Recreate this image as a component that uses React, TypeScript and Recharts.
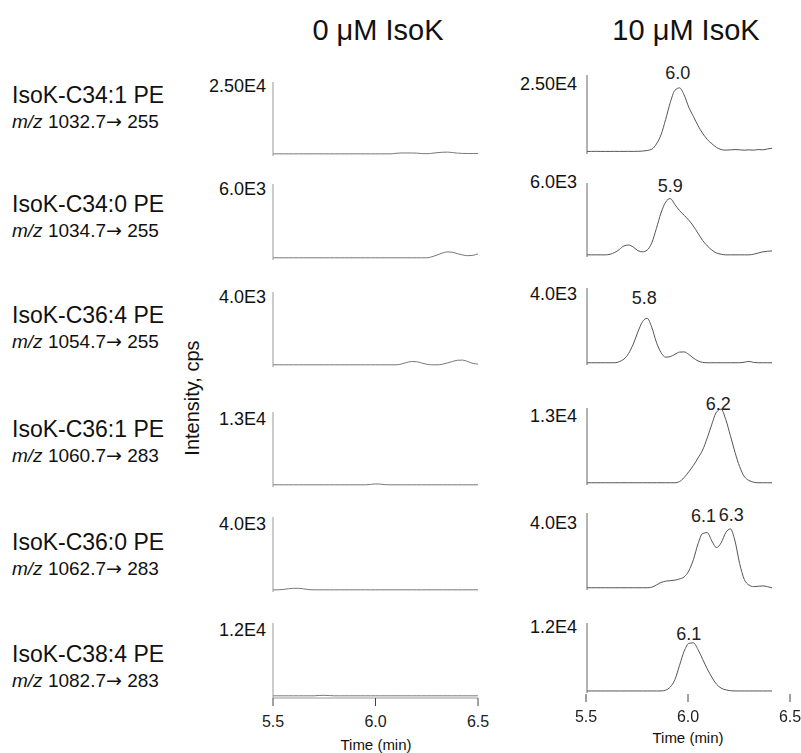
import React from 'react';
import { LineChart, Line, XAxis, YAxis, ReferenceDot } from 'recharts';

// retention time grid (min)
const TIME = [
  5.5, 5.525, 5.55, 5.575, 5.6, 5.625, 5.65, 5.675, 5.7, 5.725, 5.75, 5.775, 5.8, 5.825,
  5.85, 5.875, 5.9, 5.925, 5.95, 5.975, 6.0, 6.025, 6.05, 6.075, 6.1, 6.125, 6.15, 6.175,
  6.2, 6.225, 6.25, 6.275, 6.3, 6.325, 6.35, 6.375, 6.4, 6.425, 6.45, 6.475, 6.5,
];

const ANALYTES = ['IsoK-C34:1 PE', 'IsoK-C34:0 PE', 'IsoK-C36:4 PE', 'IsoK-C36:1 PE', 'IsoK-C36:0 PE', 'IsoK-C38:4 PE'];
const PRECURSORS = ['1032.7', '1034.7', '1054.7', '1060.7', '1062.7', '1082.7'];
const PRODUCTS = ['255', '255', '255', '283', '283', '283'];
const CONDITIONS = ['0 μM IsoK', '10 μM IsoK'];
const SCALE_MAX = [25000, 6000, 4000, 13000, 4000, 12000];
const SCALE_LABELS = ['2.50E4', '6.0E3', '4.0E3', '1.3E4', '4.0E3', '1.2E4'];
const X_TICKS = [5.5, 6.0, 6.5];

// 0 uM IsoK traces (cps)
const CTRL_1 = [0,0,0,0,0,0,0,0,0,0,0,0,0,0,0,0,0,0,0,0,0,0,0,0,200,300,300,300,250,100,50,200,400,550,600,450,250,150,100,100,100];
const CTRL_2 = [0,0,0,0,0,0,0,0,0,0,0,0,0,0,0,0,0,0,0,0,0,0,0,0,0,0,0,0,0,0,0,80,220,380,480,450,330,230,170,200,320];
const CTRL_3 = [0,0,0,0,0,0,0,0,0,0,0,0,0,0,0,0,0,0,0,0,0,0,0,0,0,40,120,180,170,100,30,0,0,30,100,180,250,260,180,80,40];
const CTRL_4 = [0,0,0,0,0,0,0,0,0,0,0,0,0,0,0,0,0,0,0,60,170,120,20,0,0,0,0,0,0,0,0,0,0,0,0,0,0,0,0,0,0];
const CTRL_5 = [0,0,20,60,80,80,50,10,0,0,0,0,0,0,0,0,0,0,0,0,0,0,0,0,0,0,0,0,0,0,0,0,0,0,0,0,0,0,0,0,0];
const CTRL_6 = [0,0,0,0,0,0,0,0,0,60,80,40,0,0,0,0,0,0,0,0,0,0,0,0,0,0,0,0,0,0,0,0,0,0,0,0,0,0,0,0,0];

// 10 uM IsoK traces (cps)
const ISOK_1 = [100,100,120,100,90,100,110,100,100,120,100,130,200,400,800,2500,5500,10500,16000,20000,20800,18500,14500,11500,8500,6000,4000,2600,1400,700,500,600,700,600,500,600,500,700,600,900,1100];
const ISOK_2 = [0,0,0,0,0,50,200,450,750,820,650,350,250,400,1000,2200,3500,4400,4700,4200,3700,3300,2900,2400,1800,1200,750,400,150,50,0,0,0,0,0,0,50,150,250,300,330];
const ISOK_3 = [0,0,0,0,0,0,0,60,200,500,1000,1650,2200,2380,1900,1100,550,300,330,450,570,580,450,250,100,20,0,0,0,0,0,0,0,0,30,70,20,0,0,0,0];
const ISOK_4 = [0,0,0,0,0,0,0,0,0,0,0,0,0,0,0,0,0,0,0,0,200,900,1900,3000,4300,5700,7800,10200,12300,12800,11000,8200,5300,2800,1100,400,100,0,0,0,0];
const ISOK_5 = [0,0,0,0,0,0,0,0,0,0,0,0,0,0,30,150,280,350,380,410,470,580,900,1500,2350,2900,2950,2500,2150,2400,2950,3150,2500,1300,450,150,60,80,100,60,0];
const ISOK_6 = [0,0,0,0,0,0,0,0,0,0,0,0,0,0,0,0,0,150,700,2000,4500,7000,8400,8500,7300,5600,3900,2400,1200,500,200,50,0,0,0,0,0,0,0,0,0];

// apex retention times and their labels
const PEAK_TIMES = [[5.99], [5.95], [5.81], [6.21], [6.13, 6.28], [6.05]];
const PEAK_LABELS = [['6.0'], ['5.9'], ['5.8'], ['6.2'], ['6.1', '6.3'], ['6.1']];

const CTRL = [CTRL_1, CTRL_2, CTRL_3, CTRL_4, CTRL_5, CTRL_6];
const ISOK = [ISOK_1, ISOK_2, ISOK_3, ISOK_4, ISOK_5, ISOK_6];

// layout (px)
const FONT = '"Liberation Sans", Arial, Helvetica, sans-serif';
const LEFT_X = [273, 478];
const RIGHT_X = [587, 772];
const LEFT_ROWS = [[82, 156], [184, 260], [292, 367], [412, 487], [517, 592], [623, 698]];
const RIGHT_ROWS = [[75, 154], [183, 257], [288, 365], [408, 485], [513, 590], [623, 693]];
const LEFT_LABEL_Y = [86, 189, 297, 419, 524, 630];
const RIGHT_LABEL_Y = [84, 182, 294, 416, 523, 627];
const NAME_Y = [95, 204, 315, 429, 542, 654];
const PEAK_OFFSETS = [[9], [7], [14], [-1], [11, 8], [3]];

const peakHeight = (series: number[], t: number) =>
  Math.max(...series.filter((_, i) => Math.abs(TIME[i] - t) <= 0.03));

type PanelProps = {
  series: number[];
  max: number;
  xs: number[];
  rows: number[];
  axisColor: string;
  lineColor: string;
  peaks?: { t: number; label: string; offset: number }[];
  showTicks?: boolean;
};

const PAD = 20;

const Panel = ({ series, max, xs, rows, axisColor, lineColor, peaks = [], showTicks }: PanelProps) => {
  const mT = 34, mB = 2;
  const yW = 1;
  const axisH = showTicks ? 40 : 0;
  const data = TIME.map((t, i) => ({ t, v: series[i] }));
  return (
    <div style={{ position: 'absolute', left: xs[0] - PAD - yW, top: rows[0] - mT }}>
      <LineChart
        width={xs[1] - xs[0] + 2 * PAD + yW}
        height={rows[1] - rows[0] + mT + mB + axisH}
        data={data}
        margin={{ top: mT, right: PAD, bottom: mB, left: PAD }}
      >
        <XAxis
          dataKey="t"
          type="number"
          domain={[5.5, 6.5]}
          ticks={X_TICKS}
          height={axisH}
          tick={showTicks ? { fill: '#222', fontSize: 16, fontFamily: FONT } : false}
          tickLine={showTicks ? { stroke: '#444' } : false}
          tickSize={8}
          tickMargin={10}
          tickFormatter={(v: number) => v.toFixed(1)}
          axisLine={{ stroke: axisColor }}
          allowDataOverflow
        />
        <YAxis
          type="number"
          domain={[-max * 0.03, max]}
          width={yW}
          tick={false}
          tickLine={false}
          axisLine={{ stroke: axisColor }}
          allowDataOverflow
        />
        <Line
          dataKey="v"
          type="monotone"
          stroke={lineColor}
          strokeWidth={1}
          dot={false}
          isAnimationActive={false}
        />
        {peaks.map((p) => (
          <ReferenceDot
            key={p.label + p.t}
            x={p.t}
            y={peakHeight(series, p.t)}
            r={0}
            fill="none"
            stroke="none"
            label={{ value: p.label, position: 'top', offset: p.offset, fill: '#222', fontSize: 18, fontFamily: FONT }}
          />
        ))}
      </LineChart>
    </div>
  );
};

// tick strip under the 10 uM column
const TimeAxis = () => {
  const data = TIME.map((t) => ({ t }));
  return (
    <div style={{ position: 'absolute', left: 586 - PAD, top: 694 - 1 }}>
      <LineChart width={204 + 2 * PAD} height={42} data={data} margin={{ top: 1, right: PAD, bottom: 0, left: PAD }}>
        <XAxis
          dataKey="t"
          type="number"
          domain={[5.5, 6.5]}
          ticks={X_TICKS}
          height={41}
          axisLine={false}
          tickLine={{ stroke: '#444' }}
          tickSize={8}
          tickMargin={9}
          tick={{ fill: '#222', fontSize: 16, fontFamily: FONT }}
          tickFormatter={(v: number) => v.toFixed(1)}
        />
        <YAxis hide domain={[0, 1]} />
      </LineChart>
    </div>
  );
};

export default function App() {
  return (
    <div style={{ position: 'fixed', left: 0, top: 0, width: 801, height: 753, background: '#fff', fontFamily: FONT }}>
      <svg width={801} height={753} style={{ position: 'absolute', left: 0, top: 0 }} fontFamily={FONT}>
        <text x={378} y={30} fontSize={29} textAnchor="middle" dominantBaseline="central" fill="#111">{CONDITIONS[0]}</text>
        <text x={686} y={30} fontSize={29} textAnchor="middle" dominantBaseline="central" fill="#111">{CONDITIONS[1]}</text>
        {ANALYTES.map((name, i) => (
          <g key={name + i}>
            <text x={12} y={NAME_Y[i]} fontSize={23} dominantBaseline="central" fill="#111">{name}</text>
            <text x={12} y={NAME_Y[i] + 26} fontSize={19} dominantBaseline="central" fill="#111">
              <tspan fontStyle="italic">m/z</tspan> {PRECURSORS[i]}<tspan fontFamily="DejaVu Sans">→</tspan> {PRODUCTS[i]}
            </text>
            <text x={266} y={LEFT_LABEL_Y[i]} fontSize={18} textAnchor="end" dominantBaseline="central" fill="#111">{SCALE_LABELS[i]}</text>
            <text x={577} y={RIGHT_LABEL_Y[i]} fontSize={18} textAnchor="end" dominantBaseline="central" fill="#111">{SCALE_LABELS[i]}</text>
          </g>
        ))}
        <text x={192} y={398} fontSize={20} textAnchor="middle" dominantBaseline="central" fill="#111" transform="rotate(-90 192 398)">Intensity, cps</text>
        <text x={376} y={744} fontSize={15} textAnchor="middle" dominantBaseline="central" fill="#111">Time (min)</text>
        <text x={688} y={737} fontSize={15} textAnchor="middle" dominantBaseline="central" fill="#111">Time (min)</text>
      </svg>
      {CTRL.map((s, i) => (
        <Panel
          key={'c' + i}
          series={s}
          max={SCALE_MAX[i]}
          xs={LEFT_X}
          rows={LEFT_ROWS[i]}
          axisColor="#999"
          lineColor="#777"
          showTicks={i === CTRL.length - 1}
        />
      ))}
      {ISOK.map((s, i) => (
        <Panel
          key={'k' + i}
          series={s}
          max={SCALE_MAX[i]}
          xs={RIGHT_X}
          rows={RIGHT_ROWS[i]}
          axisColor="#666"
          lineColor="#555"
          peaks={PEAK_TIMES[i].map((t, j) => ({ t, label: PEAK_LABELS[i][j], offset: PEAK_OFFSETS[i][j] }))}
        />
      ))}
      <TimeAxis />
    </div>
  );
}
